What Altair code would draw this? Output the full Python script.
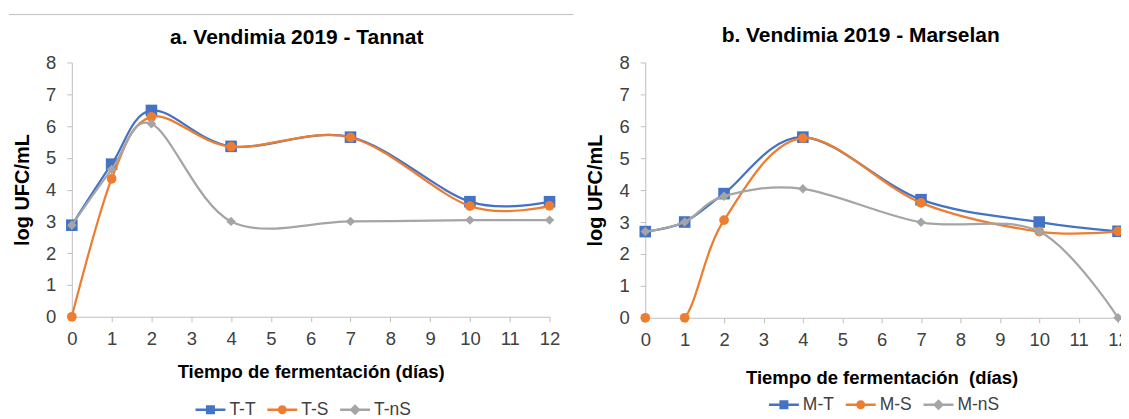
import altair as alt
import pandas as pd

# ---------------- data ----------------
days = [0, 1, 2, 4, 7, 10, 12]

tannat_names = ["T-T", "T-S", "T-nS"]
tannat_tt = [2.88, 4.80, 6.49, 5.36, 5.65, 3.62, 3.62]
tannat_ts = [0.00, 4.34, 6.29, 5.35, 5.64, 3.48, 3.49]
tannat_tns = [2.88, 4.63, 6.07, 3.00, 3.00, 3.04, 3.04]

marselan_names = ["M-T", "M-S", "M-nS"]
marselan_mt = [2.70, 3.00, 3.89, 5.66, 3.70, 3.00, 2.71]
marselan_ms = [0.00, 0.00, 3.06, 5.63, 3.60, 2.70, 2.71]
marselan_mns = [2.70, 3.00, 3.81, 4.04, 2.99, 2.70, 0.00]

x_tick_values = list(range(0, 13))
y_tick_values = list(range(0, 9))

series_colors = ["#4472C4", "#ED7D31", "#A5A5A5"]
marker_shapes = ["square", "circle", "diamond"]
marker_sizes = [135, 95, 90]

FONT = "Liberation Sans"
AXIS_GRAY = "#BFBFBF"
LABEL_COLOR = "#404040"

LINE_PATH = "M-1,-0.083H1V0.083H-1Z"
legend_paths = [
    LINE_PATH + " M-0.3,-0.3H0.3V0.3H-0.3Z",
    LINE_PATH + " M0.3,0A0.3,0.3 0 1 1 -0.3,0A0.3,0.3 0 1 1 0.3,0Z",
    LINE_PATH + " M0,-0.37L0.37,0L0,0.37L-0.37,0Z",
]


def long_table(names, series):
    rows = []
    for name, vals in zip(names, series):
        for d, v in zip(days, vals):
            rows.append({"dia": d, "serie": name, "ufc": v})
    return pd.DataFrame(rows)


def shape_expr(names):
    expr = "'" + legend_paths[-1] + "'"
    for n, p in reversed(list(zip(names[:-1], legend_paths[:-1]))):
        expr = f"datum.value === '{n}' ? '{p}' : ({expr})"
    return expr


def panel(title, names, series, w, h, title_dx, title_offset, xtitle,
          x_title_pad, lx, ly):
    df = long_table(names, series)
    x = alt.X(
        "dia:Q",
        scale=alt.Scale(domain=[0, 12], nice=False, zero=False),
        axis=alt.Axis(values=x_tick_values, title=xtitle, format="d",
                      labelPadding=8, titlePadding=x_title_pad,
                      labelOverlap=False, labelFlush=False),
    )
    y = alt.Y(
        "ufc:Q",
        scale=alt.Scale(domain=[0, 8], nice=False),
        axis=alt.Axis(values=y_tick_values, title="log UFC/mL", format="d",
                      labelPadding=11, titlePadding=13.5, labelOverlap=False,
                      labelFlush=False, titleFontSize=20),
    )
    base = alt.Chart(df)

    legend = alt.Legend(
        orient="none", legendX=lx, legendY=ly, direction="horizontal",
        title=None, symbolSize=900, symbolType={"expr": shape_expr(names)},
        symbolStrokeWidth=0, labelFont=FONT, labelFontSize=17.5,
        labelColor=LABEL_COLOR, labelOffset=4, columnPadding=11,
    )
    # small points hidden under the real markers; they carry the legend
    legend_layer = base.mark_point(filled=True, opacity=1, size=20).encode(
        x=x, y=y,
        color=alt.Color("serie:N", scale=alt.Scale(domain=names, range=series_colors),
                        sort=names, legend=legend),
    )

    layers = [legend_layer]
    for name, col, shp, sz in zip(names, series_colors, marker_shapes, marker_sizes):
        sub = base.transform_filter(alt.datum.serie == name)
        line = sub.mark_line(
            interpolate="cardinal", tension=0, strokeWidth=2.25, clip=True, color=col
        ).encode(x=x, y=y)
        pts = sub.mark_point(
            filled=True, opacity=1, shape=shp, size=sz, color=col
        ).encode(x=x, y=y)
        layers += [line, pts]

    return alt.layer(*layers).properties(
        width=w, height=h,
        title=alt.TitleParams(title, font=FONT, fontSize=21, fontWeight="bold",
                              color="#000000", anchor="middle", frame="group",
                              dx=title_dx, offset=title_offset),
    )


left = panel("a. Vendimia 2019 - Tannat", tannat_names,
             [tannat_tt, tannat_ts, tannat_tns], 479, 255, -14, 5.5,
             "Tiempo de fermentación (días)", 14, 124, 333)
right = panel("b. Vendimia 2019 - Marselan", marselan_names,
              [marselan_mt, marselan_ms, marselan_mns], 474, 256, -21, 7.5,
              "Tiempo de fermentación \u00a0(días)", 19, 124, 328)

top_rule = alt.Chart(pd.DataFrame({"k": [0]})).mark_rule(
    color=AXIS_GRAY, strokeWidth=1
).encode(x=alt.value(-63), x2=alt.value(503), y=alt.value(1)).properties(width=503, height=1)

panels = alt.hconcat(left, right, spacing=25).resolve_scale(
    color="independent"
).resolve_legend(color="independent")

chart = alt.vconcat(top_rule, panels, spacing=9).properties(
    padding={"left": 0, "top": 5, "right": -8, "bottom": 30},
    background="white",
).configure_view(stroke=None).configure_axis(
    grid=False, domainColor=AXIS_GRAY, tickColor=AXIS_GRAY, domainWidth=1,
    tickWidth=1, tickSize=5, labelFont=FONT, labelFontSize=18.5,
    labelColor=LABEL_COLOR, titleFont=FONT, titleFontSize=18.5,
    titleFontWeight="bold", titleColor="#000000",
)

chart.save("out.html", embed_options={"renderer": "svg", "actions": False})
